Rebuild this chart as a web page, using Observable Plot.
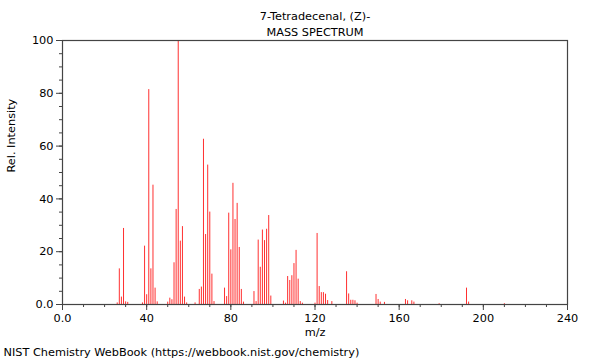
<!DOCTYPE html>
<html>
<head>
<meta charset="utf-8">
<script src="https://cdn.jsdelivr.net/npm/d3@7"></script>
<script src="https://cdn.jsdelivr.net/npm/@observablehq/plot@0.6"></script>
<style>
  html, body { margin: 0; padding: 0; background: #fff; }
  #chart svg { display: block; }
</style>
</head>
<body>
<div id="chart"></div>
<script>
const title = "7-Tetradecenal, (Z)-";
const subtitle = "MASS SPECTRUM";
const xLabel = "m/z";
const yLabel = "Rel. Intensity";
const caption = "NIST Chemistry WebBook (https://webbook.nist.gov/chemistry)";

const mz = [26,27,28,29,30,31,38,39,40,41,42,43,44,45,50,51,52,53,54,55,56,57,58,59,63,65,66,67,68,69,70,71,72,77,78,79,80,81,82,83,84,85,86,91,92,93,94,95,96,97,98,99,105,106,107,108,109,110,111,112,113,114,120,121,122,123,124,125,126,128,135,136,137,138,139,140,149,150,151,153,163,164,166,167,179,192,193,210];
const intensity = [0.6,13.5,2.8,28.8,1.0,0.8,0.6,22.1,3.7,81.4,13.5,45.2,6.2,1.0,0.9,2.4,1.8,15.8,36.0,100,24.0,29.5,2.8,0.6,0.6,5.7,6.6,62.6,26.5,52.8,35.0,11.5,1.1,6.2,3.0,34.6,20.7,45.9,32.2,38.3,21.6,5.7,0.9,4.9,1.1,24.4,14.1,28.2,24.2,28.5,33.7,3.2,1.3,0.5,10.6,9.1,10.9,15.5,20.5,9.6,1.1,0.5,0.5,26.9,6.8,4.5,4.5,3.9,1.5,1.1,12.4,4.0,1.6,1.6,1.4,0.5,3.8,1.9,0.9,0.8,1.9,1.4,1.4,0.9,0.3,6.2,0.9,0.3];

const xMajorTicks = [0, 40, 80, 120, 160, 200, 240];
const xMinorTicks = d3.range(0, 241, 10);
const yMajorTicks = [0, 20, 40, 60, 80, 100];
const yMinorTicks = d3.range(0, 101, 5);

const peaks = mz.map((m, i) => ({mz: m, value: intensity[i]}));
const fmt = d => d === 0 ? "0.0" : String(d);
const axisColor = "#444";
const fs = 11.3;

const chart = Plot.plot({
  width: 600,
  height: 360,
  marginLeft: 62,
  marginRight: 33,
  marginTop: 40,
  marginBottom: 56,
  style: {fontFamily: "DejaVu Sans, sans-serif", fontSize: "11px", color: "#000", background: "#fff"},
  x: {domain: [0, 240], label: null},
  y: {domain: [0, 100], label: null},
  marks: [
    Plot.ruleX(peaks, {x: "mz", y1: 0, y2: "value", stroke: "#ff3030", strokeWidth: 1}),
    Plot.frame({stroke: axisColor, strokeWidth: 1.2}),
    Plot.axisX({ticks: xMinorTicks, tickSize: 3, tickFormat: () => "", stroke: axisColor}),
    Plot.axisX({ticks: xMajorTicks, tickSize: 6, tickPadding: 3, tickFormat: fmt, stroke: axisColor, fill: "#000", fontSize: 11.3}),
    Plot.axisY({ticks: yMinorTicks, tickSize: 3, tickFormat: () => "", stroke: axisColor}),
    Plot.axisY({ticks: yMajorTicks, tickSize: 6, tickPadding: 3, tickFormat: fmt, stroke: axisColor, fill: "#000", fontSize: 11.3}),
    Plot.text([title], {frameAnchor: "top", dy: -29, fontSize: fs, fill: "#000"}),
    Plot.text([subtitle], {frameAnchor: "top", dy: -13, fontSize: fs, fill: "#000"}),
    Plot.text([xLabel], {frameAnchor: "bottom", dy: 31, fontSize: fs, fill: "#000"}),
    Plot.text([yLabel], {frameAnchor: "left", dx: -51, rotate: -90, fontSize: fs, fill: "#000"}),
    Plot.text([caption], {frameAnchor: "bottom-left", dx: -59, dy: 51, textAnchor: "start", fontSize: fs, fill: "#000"})
  ]
});
document.getElementById("chart").appendChild(chart);
</script>
</body>
</html>
